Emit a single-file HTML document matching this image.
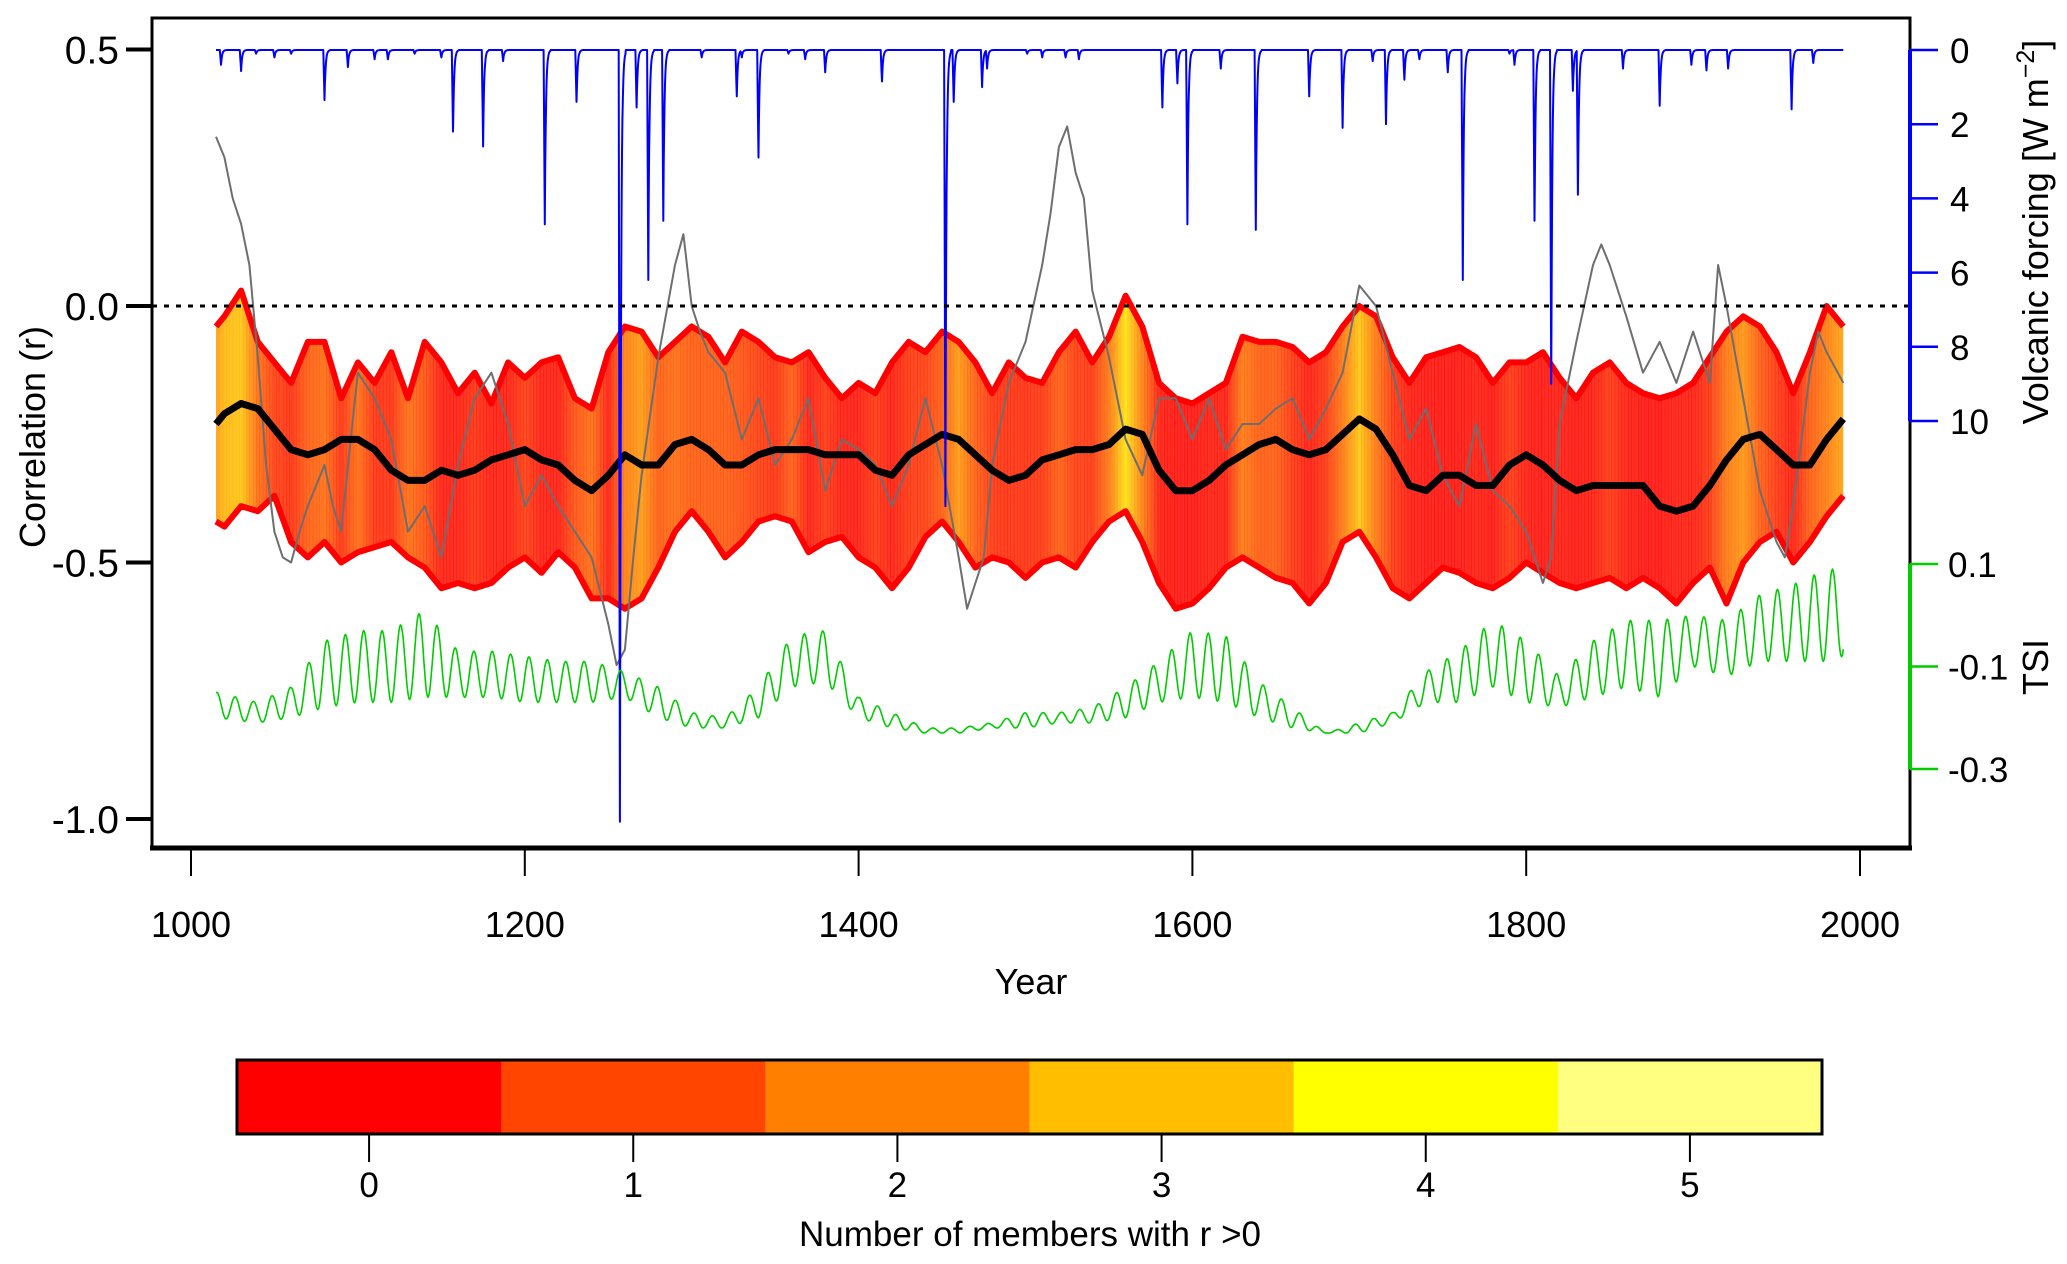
<!DOCTYPE html>
<html><head><meta charset="utf-8">
<style>
html,body{margin:0;padding:0;background:#fff;}
svg{display:block;font-family:"Liberation Sans",Arial,sans-serif;}
</style></head>
<body>
<svg id="chart" width="2067" height="1264" viewBox="0 0 2067 1264" xmlns="http://www.w3.org/2000/svg">
  <defs><clipPath id="bandclip"><polygon id="bandpoly" points=""/></clipPath></defs>
  <g id="bandfill" clip-path="url(#bandclip)"></g>
  <g id="marks"></g>
  <rect x="152" y="18" width="1758" height="830" fill="none" stroke="#000" stroke-width="3"/>
  <line x1="150" y1="848" x2="1912" y2="848" stroke="#000" stroke-width="5"/>
  <line x1="152" y1="306" x2="1910" y2="306" stroke="#000" stroke-width="3" stroke-dasharray="5,7"/>
  <g id="axes"></g>
  <text x="0" y="0" transform="translate(45,437) rotate(-90)" text-anchor="middle" font-size="36">Correlation (r)</text>
  <text x="1031" y="994" text-anchor="middle" font-size="36">Year</text>
  <text transform="translate(2048,232) rotate(-90)" text-anchor="middle" font-size="36">Volcanic forcing [W m<tspan baseline-shift="super" font-size="25">−2</tspan>]</text>
  <text transform="translate(2048,667) rotate(-90)" text-anchor="middle" font-size="36">TSI</text>
  <g id="colorbar"></g>
  <text x="1030" y="1246" text-anchor="middle" font-size="35">Number of members with r &gt;0</text>
</svg>
<script>
const bandYears=[1015,1020,1030,1040,1050,1060,1070,1080,1090,1100,1110,1120,1130,1140,1150,1160,1170,1180,1190,1200,1210,1220,1230,1240,1250,1260,1270,1280,1290,1300,1310,1320,1330,1340,1350,1360,1370,1380,1390,1400,1410,1420,1430,1440,1450,1460,1470,1480,1490,1500,1510,1520,1530,1540,1550,1560,1570,1580,1590,1600,1610,1620,1630,1640,1650,1660,1670,1680,1690,1700,1710,1720,1730,1740,1750,1760,1770,1780,1790,1800,1810,1820,1830,1840,1850,1860,1870,1880,1890,1900,1910,1920,1930,1940,1950,1960,1970,1980,1990];
const upperR=[-0.04,-0.02,0.03,-0.07,-0.11,-0.15,-0.07,-0.07,-0.18,-0.11,-0.15,-0.09,-0.18,-0.07,-0.11,-0.17,-0.13,-0.19,-0.11,-0.14,-0.11,-0.10,-0.18,-0.20,-0.09,-0.04,-0.05,-0.10,-0.07,-0.04,-0.06,-0.11,-0.05,-0.07,-0.10,-0.11,-0.09,-0.14,-0.18,-0.15,-0.17,-0.11,-0.07,-0.09,-0.05,-0.07,-0.11,-0.17,-0.11,-0.14,-0.15,-0.09,-0.05,-0.11,-0.06,0.02,-0.04,-0.15,-0.18,-0.19,-0.17,-0.15,-0.06,-0.07,-0.07,-0.08,-0.11,-0.09,-0.04,0.00,-0.02,-0.10,-0.15,-0.10,-0.09,-0.08,-0.10,-0.15,-0.11,-0.11,-0.09,-0.14,-0.18,-0.13,-0.11,-0.15,-0.17,-0.18,-0.17,-0.15,-0.10,-0.05,-0.02,-0.04,-0.09,-0.17,-0.09,0.00,-0.04];
const lowerR=[-0.42,-0.43,-0.39,-0.40,-0.37,-0.46,-0.49,-0.46,-0.50,-0.48,-0.47,-0.46,-0.49,-0.51,-0.55,-0.54,-0.55,-0.54,-0.51,-0.49,-0.52,-0.48,-0.51,-0.57,-0.57,-0.59,-0.57,-0.51,-0.44,-0.40,-0.44,-0.49,-0.46,-0.42,-0.41,-0.42,-0.48,-0.46,-0.45,-0.49,-0.51,-0.55,-0.51,-0.45,-0.42,-0.46,-0.51,-0.49,-0.50,-0.53,-0.50,-0.49,-0.51,-0.46,-0.42,-0.40,-0.46,-0.54,-0.59,-0.58,-0.55,-0.51,-0.49,-0.51,-0.53,-0.54,-0.58,-0.54,-0.46,-0.44,-0.49,-0.55,-0.57,-0.54,-0.51,-0.52,-0.54,-0.55,-0.53,-0.50,-0.52,-0.54,-0.55,-0.54,-0.53,-0.55,-0.53,-0.55,-0.58,-0.54,-0.51,-0.58,-0.50,-0.46,-0.44,-0.50,-0.46,-0.41,-0.37];
const meanR=[-0.23,-0.21,-0.19,-0.20,-0.24,-0.28,-0.29,-0.28,-0.26,-0.26,-0.28,-0.32,-0.34,-0.34,-0.32,-0.33,-0.32,-0.30,-0.29,-0.28,-0.30,-0.31,-0.34,-0.36,-0.33,-0.29,-0.31,-0.31,-0.27,-0.26,-0.28,-0.31,-0.31,-0.29,-0.28,-0.28,-0.28,-0.29,-0.29,-0.29,-0.32,-0.33,-0.29,-0.27,-0.25,-0.26,-0.29,-0.32,-0.34,-0.33,-0.30,-0.29,-0.28,-0.28,-0.27,-0.24,-0.25,-0.32,-0.36,-0.36,-0.34,-0.31,-0.29,-0.27,-0.26,-0.28,-0.29,-0.28,-0.25,-0.22,-0.24,-0.29,-0.35,-0.36,-0.33,-0.33,-0.35,-0.35,-0.31,-0.29,-0.31,-0.34,-0.36,-0.35,-0.35,-0.35,-0.35,-0.39,-0.40,-0.39,-0.35,-0.30,-0.26,-0.25,-0.28,-0.31,-0.31,-0.26,-0.22];
const memberCount=[2.3,2.8,3.0,1.5,0.7,0.5,1.2,1.5,0.5,1.5,0.5,0.5,1.5,1,0.2,0.2,0.5,0.2,0.2,0.7,0.2,0.2,1,1.5,0.2,1.8,2.3,1.2,1.5,1.2,1.2,1.2,1,0.7,0.5,1.2,0.2,0.6,0.2,0.2,0.6,0.2,0.6,0.7,1.2,2.3,1.2,0.6,0.5,0.5,0.6,1.2,0.7,0.6,1.7,3.5,1.8,0.2,0.1,0.1,0.2,0.2,1.7,1.2,1.2,0.6,0.2,0.6,1.7,3,1.7,0.6,0.2,0.1,0.1,0.1,0.2,0.1,0.6,0.2,0.1,0.2,0.1,0.2,0.6,0.2,0.1,0.1,0.2,0.2,0.6,1.7,2.2,1.2,0.6,0.2,1.2,1.8,2.5];
const grayYears=[1015,1020,1025,1030,1035,1040,1045,1050,1055,1060,1065,1070,1080,1085,1090,1095,1100,1110,1120,1130,1140,1150,1160,1170,1180,1190,1200,1210,1220,1230,1240,1250,1255,1260,1265,1270,1280,1290,1295,1300,1305,1310,1320,1330,1340,1350,1360,1370,1380,1390,1400,1410,1420,1430,1440,1450,1460,1465,1470,1475,1480,1490,1500,1510,1515,1520,1525,1530,1535,1540,1550,1560,1570,1580,1590,1600,1610,1620,1630,1640,1650,1660,1670,1680,1690,1700,1710,1720,1730,1740,1750,1760,1770,1780,1790,1800,1810,1815,1820,1830,1840,1845,1850,1860,1870,1880,1890,1900,1910,1915,1920,1930,1940,1950,1955,1960,1970,1975,1980,1990];
const grayR=[0.33,0.29,0.21,0.16,0.08,-0.10,-0.31,-0.44,-0.49,-0.50,-0.44,-0.39,-0.31,-0.39,-0.44,-0.28,-0.13,-0.18,-0.26,-0.44,-0.39,-0.49,-0.31,-0.18,-0.13,-0.23,-0.39,-0.33,-0.39,-0.44,-0.49,-0.62,-0.70,-0.67,-0.49,-0.33,-0.10,0.08,0.14,0.00,-0.05,-0.09,-0.13,-0.26,-0.18,-0.31,-0.26,-0.18,-0.36,-0.26,-0.28,-0.31,-0.39,-0.31,-0.18,-0.31,-0.49,-0.59,-0.54,-0.49,-0.31,-0.15,-0.07,0.08,0.18,0.31,0.35,0.26,0.21,0.03,-0.10,-0.26,-0.33,-0.18,-0.18,-0.26,-0.18,-0.28,-0.23,-0.23,-0.20,-0.18,-0.26,-0.20,-0.13,0.04,0.00,-0.13,-0.26,-0.20,-0.33,-0.39,-0.23,-0.36,-0.39,-0.44,-0.54,-0.49,-0.23,-0.07,0.08,0.12,0.08,-0.02,-0.13,-0.07,-0.15,-0.05,-0.15,0.08,0.00,-0.18,-0.36,-0.46,-0.49,-0.39,-0.13,-0.05,-0.09,-0.15];
const volcYears=[1018,1030,1039,1050,1060,1080,1094,1110,1118,1134,1150,1157,1175,1187,1212,1231,1257,1267,1274,1283,1306,1327,1330,1340,1358,1368,1380,1414,1452,1457,1474,1477,1501,1510,1524,1532,1582,1591,1597,1617,1638,1670,1690,1708,1716,1727,1736,1753,1762,1790,1793,1805,1815,1828,1831,1858,1880,1899,1908,1921,1959,1972];
const volcForcing=[0.4,0.57,0.1,0.2,0.1,1.35,0.46,0.25,0.25,0.1,0.2,2.2,2.6,0.3,4.7,1.4,20.8,1.55,6.2,4.6,0.2,1.25,0.2,2.9,0.1,0.25,0.6,0.85,12.3,1.4,1.0,0.5,0.1,0.2,0.2,0.25,1.55,0.9,4.7,0.5,4.85,1.25,2.1,0.3,2.0,0.8,0.25,0.6,6.2,0.1,0.4,4.6,9.0,1.1,3.9,0.5,1.5,0.4,0.55,0.5,1.6,0.35];
const tsiYears=[1015,1040,1060,1080,1100,1120,1140,1160,1180,1200,1220,1240,1260,1280,1300,1320,1340,1360,1380,1400,1420,1440,1460,1480,1500,1520,1540,1560,1580,1600,1620,1640,1660,1680,1700,1720,1740,1760,1780,1800,1820,1840,1860,1880,1900,1920,1940,1960,1980,1990];
const tsiHigh=[-0.15,-0.17,-0.14,-0.05,-0.03,-0.03,0.01,-0.07,-0.07,-0.08,-0.09,-0.09,-0.11,-0.14,-0.19,-0.20,-0.14,-0.04,-0.03,-0.16,-0.19,-0.22,-0.22,-0.21,-0.19,-0.19,-0.18,-0.14,-0.09,-0.03,-0.04,-0.13,-0.18,-0.23,-0.21,-0.19,-0.11,-0.07,-0.01,-0.05,-0.12,-0.05,-0.01,-0.01,0.00,-0.01,0.04,0.06,0.09,0.09];
const tsiLow=[-0.20,-0.21,-0.20,-0.18,-0.17,-0.17,-0.16,-0.16,-0.16,-0.17,-0.17,-0.17,-0.16,-0.20,-0.22,-0.22,-0.20,-0.14,-0.13,-0.20,-0.22,-0.23,-0.23,-0.22,-0.22,-0.21,-0.21,-0.20,-0.17,-0.16,-0.17,-0.20,-0.22,-0.23,-0.23,-0.21,-0.17,-0.17,-0.14,-0.17,-0.18,-0.16,-0.14,-0.16,-0.10,-0.12,-0.09,-0.09,-0.09,-0.08];
const yearTicks=[1000,1200,1400,1600,1800,2000];
const corrTicks=[0.5,0.0,-0.5,-1.0];
const corrTickLabels=["0.5","0.0","-0.5","-1.0"];
const volcTicks=[0,2,4,6,8,10];
const tsiTicks=[0.1,-0.1,-0.3];
const tsiTickLabels=["0.1","-0.1","-0.3"];
const cbLevels=[0,1,2,3,4,5];
const cbColors=["#ff0000","#ff4500","#ff8000","#ffbf00","#ffff00","#ffff80"];

const NS="http://www.w3.org/2000/svg";
const X=y=>191+(y-1000)*1.669;
const Y=r=>306-513*r;
const YV=v=>50+37.1*v;
const YT=v=>564+(0.1-v)*512.5;
function mk(tag,attrs,parent){const e=document.createElementNS(NS,tag);for(const k in attrs)e.setAttribute(k,attrs[k]);parent.appendChild(e);return e;}
function interp(xs,ys,x){if(x<=xs[0])return ys[0];for(let i=1;i<xs.length;i++){if(x<=xs[i]){const t=(x-xs[i-1])/(xs[i]-xs[i-1]);return ys[i-1]+t*(ys[i]-ys[i-1]);}}return ys[ys.length-1];}
const marks=document.getElementById('marks'),axes=document.getElementById('axes');

let pts=bandYears.map((y,i)=>X(y).toFixed(1)+','+Y(upperR[i]).toFixed(1));
for(let i=bandYears.length-1;i>=0;i--)pts.push(X(bandYears[i]).toFixed(1)+','+Y(lowerR[i]).toFixed(1));
document.getElementById('bandpoly').setAttribute('points',pts.join(' '));
const pal=[[255,0,0],[255,69,0],[255,128,0],[255,191,0],[255,255,0],[255,255,128]];
const bf=document.getElementById('bandfill');
for(let yr=bandYears[0];yr<bandYears[bandYears.length-1];yr+=2){
  const c=Math.max(0,Math.min(5,interp(bandYears,memberCount,yr+1)));
  const i0=Math.min(4,Math.floor(c)),t=c-i0;
  const col=pal[i0].map((v,k)=>Math.round(v+(pal[i0+1][k]-v)*t));
  const r=mk('rect',{x:X(yr).toFixed(1),y:20,width:(X(yr+2)-X(yr)+0.6).toFixed(1),height:820,fill:'rgb('+col.join(',')+')','fill-opacity':0.85},bf);
  
  
}
function line(xs,ys,fy,attrs,name){
  const d=xs.map((x,i)=>(i?'L':'M')+X(x).toFixed(1)+','+fy(ys[i]).toFixed(1)).join('');
  const p=mk('path',Object.assign({d:d,fill:'none','stroke-linejoin':'round'},attrs),marks);
  
  
}
line(bandYears,upperR,Y,{stroke:'#ff0000','stroke-width':6},'band-upper-line');
line(bandYears,lowerR,Y,{stroke:'#ff0000','stroke-width':6},'band-lower-line');
line(grayYears,grayR,Y,{stroke:'#6e6e6e','stroke-width':2},'single-member-line');
line(bandYears,meanR,Y,{stroke:'#000','stroke-width':7},'ensemble-mean-line');
const vx=[],vy=[];
for(let yr=1015;yr<=1990;yr+=0.25){
  let v=0;
  volcYears.forEach((e,i)=>{const d=yr-e;let s=0;
    if(d>=-0.75&&d<0)s=(d+0.75)/0.75;else if(d>=0&&d<3.5)s=Math.exp(-d*1.6);
    v=Math.max(v,volcForcing[i]*s);});
  vx.push(yr);vy.push(v);
}
line(vx,vy,YV,{stroke:'#0000ff','stroke-width':2},'volcanic-forcing-line');
const tx=[],ty=[];
for(let yr=1015;yr<=1990;yr+=0.5){
  const hi=interp(tsiYears,tsiHigh,yr),lo=interp(tsiYears,tsiLow,yr);
  const ph=((yr-1010)%11)/11;
  tx.push(yr);ty.push(lo+(hi-lo)*(0.5-0.5*Math.cos(2*Math.PI*ph)));
}
line(tx,ty,YT,{stroke:'#00cc00','stroke-width':1.6},'tsi-line');

yearTicks.forEach(y=>{
  const l=mk('line',{x1:X(y),y1:848,x2:X(y),y2:876,stroke:'#000','stroke-width':2},axes);
  
  const t=mk('text',{x:X(y),y:937,'text-anchor':'middle','font-size':36},axes);t.textContent=y;
  
});
corrTicks.forEach((r,i)=>{
  const l=mk('line',{x1:126,y1:Y(r),x2:152,y2:Y(r),stroke:'#000','stroke-width':4},axes);
  
  const t=mk('text',{x:119,y:Y(r)+14,'text-anchor':'end','font-size':39},axes);t.textContent=corrTickLabels[i];
  
});
let al=mk('line',{x1:1910,y1:YV(0),x2:1910,y2:YV(10),stroke:'#0000ff','stroke-width':4},axes);

volcTicks.forEach(v=>{
  const l=mk('line',{x1:1910,y1:YV(v),x2:1938,y2:YV(v),stroke:'#0000ff','stroke-width':2.5},axes);
  
  const t=mk('text',{x:1950,y:YV(v)+13,'font-size':35},axes);t.textContent=v;
  
});
al=mk('line',{x1:1910,y1:YT(0.1),x2:1910,y2:YT(-0.3),stroke:'#00cc00','stroke-width':4},axes);

tsiTicks.forEach((v,i)=>{
  const l=mk('line',{x1:1910,y1:YT(v),x2:1938,y2:YT(v),stroke:'#00cc00','stroke-width':2.5},axes);
  
  const t=mk('text',{x:1948,y:YT(v)+13,'font-size':35},axes);t.textContent=tsiTickLabels[i];
  
});
const cb=document.getElementById('colorbar');
const cbX0=237,cbW=(1822-237)/6;
cbLevels.forEach((lv,i)=>{
  const r=mk('rect',{x:cbX0+i*cbW,y:1060,width:cbW+0.5,height:74,fill:cbColors[i]},cb);
  
  const cx=cbX0+(i+0.5)*cbW;
  const l=mk('line',{x1:cx,y1:1134,x2:cx,y2:1162,stroke:'#000','stroke-width':2},cb);
  
  const t=mk('text',{x:cx,y:1197,'text-anchor':'middle','font-size':35},cb);t.textContent=lv;
  
});
const fr=mk('rect',{x:cbX0,y:1060,width:1822-237,height:74,fill:'none',stroke:'#000','stroke-width':3},cb);

</script>
</body></html>
